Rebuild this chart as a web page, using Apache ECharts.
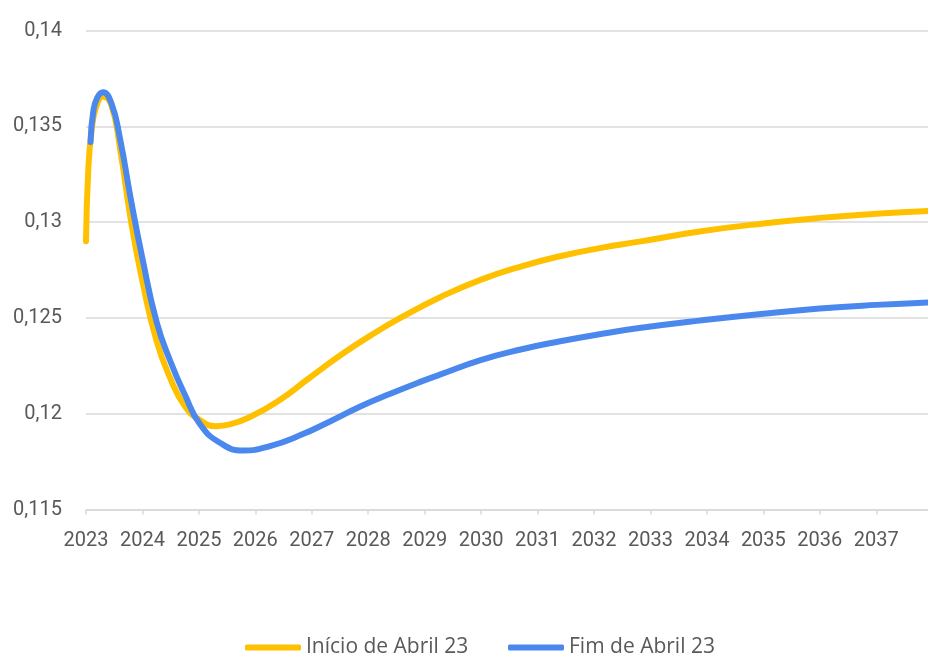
<!DOCTYPE html>
<html>
<head>
<meta charset="utf-8">
<script src="https://cdn.jsdelivr.net/npm/echarts@6/dist/echarts.min.js"></script>
<style>
html,body{margin:0;padding:0;background:#fff;}
#chart{width:928px;height:655px;}
</style>
</head>
<body>
<div id="chart"></div>
<script>
// Tick labels
var yearTicks = [2023,2024,2025,2026,2027,2028,2029,2030,2031,2032,2033,2034,2035,2036,2037];
var seriesNames = ['Início de Abril 23', 'Fim de Abril 23'];

// Início de Abril 23 (x = fractional year, y = value)
var inicioX = [2023.00,2023.04,2023.10,2023.18,2023.30,2023.45,2023.60,2023.80,2024.00,2024.25,2024.50,2024.75,2025.00,2025.30,2025.55,2025.90,2026.40,2026.95,2027.50,2028.05,2028.60,2029.30,2030.00,2030.70,2031.40,2032.10,2032.80,2033.90,2035.00,2036.00,2037.00,2037.92];
var inicioY = [0.1290,0.1327,0.1348,0.1360,0.13655,0.1361,0.1339,0.1300,0.1269,0.1238,0.1218,0.1204,0.11970,0.11935,0.11944,0.11982,0.12065,0.12185,0.12304,0.12410,0.12505,0.12612,0.12700,0.12768,0.12822,0.12864,0.12898,0.12952,0.12993,0.13022,0.13043,0.13058];

// Fim de Abril 23
var fimX = [2023.08,2023.13,2023.20,2023.30,2023.45,2023.60,2023.80,2024.00,2024.25,2024.50,2024.75,2025.02,2025.38,2025.79,2026.26,2026.79,2027.33,2027.86,2028.39,2028.92,2029.28,2029.99,2030.70,2031.40,2032.10,2032.80,2033.90,2035.00,2036.00,2037.00,2037.92];
var fimY = [0.13418,0.1358,0.1365,0.13678,0.1362,0.1344,0.1311,0.1281,0.1248,0.1227,0.1210,0.11945,0.11847,0.11808,0.11831,0.11887,0.11961,0.12038,0.12104,0.12166,0.12205,0.12280,0.12335,0.12378,0.12415,0.12447,0.12487,0.12522,0.12549,0.12568,0.12581];

function zip(xs, ys){ return xs.map(function(x,i){ return [x, ys[i]]; }); }

var textColor = '#595959';
var gridColor = '#d9d9d9';
var font = 'Roboto';

var chart = echarts.init(document.getElementById('chart'), null, {renderer:'canvas'});
chart.setOption({
  animation: false,
  backgroundColor: '#ffffff',
  grid: {left: 86, right: 0, top: 30.5, bottom: 145.5, containLabel: false},
  xAxis: {
    type: 'value',
    min: 2023,
    max: 2037 + 11/12,
    interval: 1,
    splitLine: {show: false},
    axisLine: {show: true, lineStyle: {color: gridColor, width: 1.5}},
    axisTick: {show: true, length: 5, lineStyle: {color: gridColor, width: 1.5}, customValues: yearTicks},
    axisLabel: {
      customValues: yearTicks,
      color: textColor, fontFamily: font, fontSize: 20, margin: 21,
      formatter: function(v){ return String(Math.round(v)); }
    }
  },
  yAxis: {
    type: 'value',
    min: 0.115,
    max: 0.14,
    interval: 0.005,
    axisLine: {show: false},
    axisTick: {show: false},
    splitLine: {lineStyle: {color: gridColor, width: 1.5}},
    axisLabel: {
      color: textColor, fontFamily: font, fontSize: 20, margin: 24,
      formatter: function(v){ return String(+(+v).toFixed(3)).replace('.', ','); }
    }
  },
  legend: [
    {
      data: [seriesNames[0]], left: 240, top: 632, itemGap: 0,
      icon: 'roundRect', itemWidth: 56, itemHeight: 6,
      textStyle: {color: textColor, fontFamily: 'Open Sans', fontSize: 21}
    },
    {
      data: [seriesNames[1]], left: 503, top: 632, itemGap: 0,
      icon: 'roundRect', itemWidth: 56, itemHeight: 6,
      textStyle: {color: textColor, fontFamily: 'Open Sans', fontSize: 21}
    }
  ],
  series: [
    {
      name: seriesNames[0], type: 'line', data: zip(inicioX, inicioY),
      smooth: 0.5, showSymbol: false, symbol: 'none',
      lineStyle: {color: '#FFC000', width: 6, cap: 'round', join: 'round'},
      itemStyle: {color: '#FFC000'}
    },
    {
      name: seriesNames[1], type: 'line', data: zip(fimX, fimY),
      smooth: 0.5, showSymbol: false, symbol: 'none',
      lineStyle: {color: '#4A88EE', width: 6, cap: 'round', join: 'round'},
      itemStyle: {color: '#4A88EE'}
    }
  ]
});
</script>
</body>
</html>
